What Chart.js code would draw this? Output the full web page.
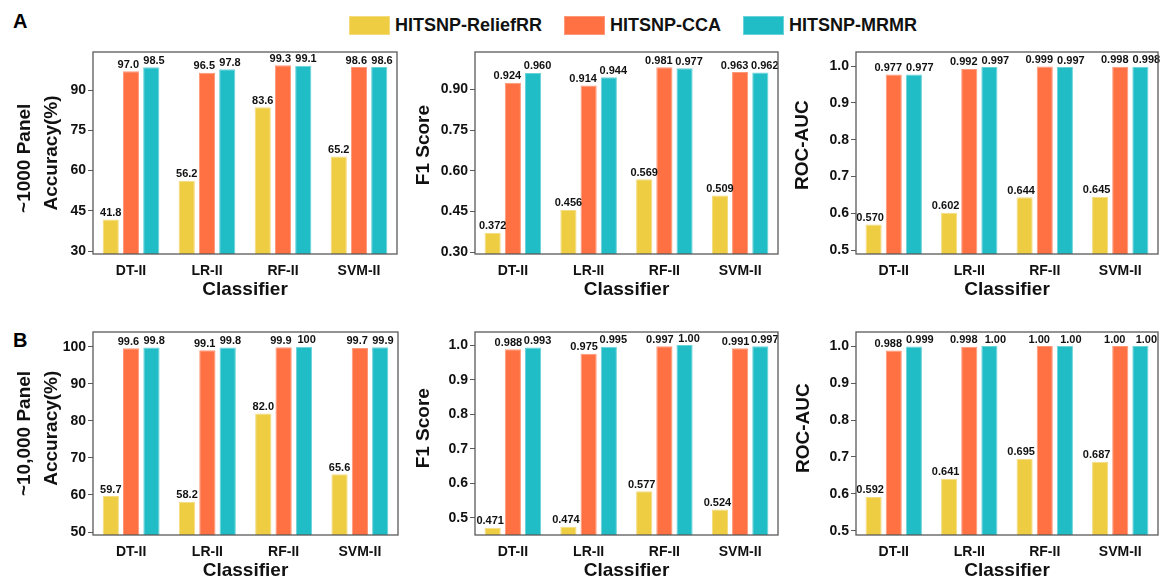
<!DOCTYPE html>
<html>
<head>
<meta charset="utf-8">
<script src="https://cdn.jsdelivr.net/npm/chart.js@4.4.1/dist/chart.umd.min.js"></script>
<style>
  html, body { margin: 0; padding: 0; background: #fff; overflow: hidden; }
  body { width: 1160px; height: 579px; position: relative; font-family: "Liberation Sans", Arial, sans-serif; }
  canvas { position: absolute; }
  .letter { position: absolute; font-weight: bold; font-size: 20px; color: #000; line-height: 20px; }
  #legend { position: absolute; left: 349px; top: 15px; display: flex; gap: 22px; }
  .item { display: flex; align-items: center; gap: 5px; font-weight: bold; font-size: 18px; color: #111; }
  .box { width: 39px; height: 17px; }
</style>
</head>
<body>
<div class="letter" style="left:13px;top:11px">A</div>
<div class="letter" style="left:13px;top:330px">B</div>
<div id="legend"></div>

<canvas id="accA" width="427" height="269" style="left:0px;top:32px"></canvas>
<canvas id="f1A" width="408" height="269" style="left:400px;top:32px"></canvas>
<canvas id="rocA" width="408" height="269" style="left:780px;top:32px"></canvas>
<canvas id="accB" width="428" height="270" style="left:0px;top:312px"></canvas>
<canvas id="f1B" width="408" height="270" style="left:400px;top:312px"></canvas>
<canvas id="rocB" width="408" height="270" style="left:780px;top:312px"></canvas>

<script>
const classifiers = ["DT-II", "LR-II", "RF-II", "SVM-II"];
const methods = ["HITSNP-ReliefRR", "HITSNP-CCA", "HITSNP-MRMR"];
const methodColors = ["#EECD43", "#FF7043", "#20BDC7"];
const methodBorders = ["#F4DC7E", "#FF9878", "#6AD3DA"];

// ~1000 panel
const accA_relief = [41.8, 56.2, 83.6, 65.2];
const accA_cca = [97.0, 96.5, 99.3, 98.6];
const accA_mrmr = [98.5, 97.8, 99.1, 98.6];
const f1A_relief = [0.372, 0.456, 0.569, 0.509];
const f1A_cca = [0.924, 0.914, 0.981, 0.963];
const f1A_mrmr = [0.960, 0.944, 0.977, 0.962];
const rocA_relief = [0.570, 0.602, 0.644, 0.645];
const rocA_cca = [0.977, 0.992, 0.999, 0.998];
const rocA_mrmr = [0.977, 0.997, 0.997, 0.998];

// ~10,000 panel
const accB_relief = [59.7, 58.2, 82.0, 65.6];
const accB_cca = [99.6, 99.1, 99.9, 99.7];
const accB_mrmr = [99.8, 99.8, 100, 99.9];
const f1B_relief = [0.471, 0.474, 0.577, 0.524];
const f1B_cca = [0.988, 0.975, 0.997, 0.991];
const f1B_mrmr = [0.993, 0.995, 1.00, 0.997];
const rocB_relief = [0.592, 0.641, 0.695, 0.687];
const rocB_cca = [0.988, 0.998, 1.00, 1.00];
const rocB_mrmr = [0.999, 1.00, 1.00, 1.00];

// tick labels
const accA_ticks = [30, 45, 60, 75, 90];
const f1A_ticks = [0.30, 0.45, 0.60, 0.75, 0.90];
const rocA_ticks = [0.5, 0.6, 0.7, 0.8, 0.9, 1.0];
const accB_ticks = [50, 60, 70, 80, 90, 100];
const f1B_ticks = [0.5, 0.6, 0.7, 0.8, 0.9, 1.0];
const rocB_ticks = [0.5, 0.6, 0.7, 0.8, 0.9, 1.0];

const FONT = "'Liberation Sans', Arial, sans-serif";
const fmtAcc = v => (v === 100 ? "100" : v.toFixed(1));
const fmtScore = v => (v === 1 ? "1.00" : v.toFixed(3));

// legend
const legendEl = document.getElementById("legend");
methods.forEach((m, i) => {
  const item = document.createElement("div");
  item.className = "item";
  const box = document.createElement("div");
  box.className = "box";
  box.style.background = methodColors[i];
  box.style.border = "1px solid " + methodBorders[i];
  const txt = document.createElement("span");
  txt.textContent = m;
  item.appendChild(box);
  item.appendChild(txt);
  legendEl.appendChild(item);
});

// value labels above each bar, nudged sideways a bit so neighbours don't collide
const barLabels = {
  id: "barLabels",
  afterDatasetsDraw(chart, args, opts) {
    const ctx = chart.ctx;
    ctx.save();
    ctx.font = "bold 11px " + FONT;
    ctx.fillStyle = "#111";
    ctx.textAlign = "center";
    ctx.textBaseline = "alphabetic";
    chart.data.datasets.forEach((ds, di) => {
      chart.getDatasetMeta(di).data.forEach((bar, i) => {
        ctx.fillText(opts.fmt(ds.data[i]), bar.x + opts.shift[di], bar.y - 3.5);
      });
    });
    ctx.restore();
  },
};

const frame = {
  id: "frame",
  afterDraw(chart) {
    const a = chart.chartArea;
    const ctx = chart.ctx;
    ctx.save();
    ctx.strokeStyle = "#5a5a5a";
    ctx.lineWidth = 1.3;
    ctx.strokeRect(a.left, a.top, a.right - a.left, a.bottom - a.top);
    ctx.restore();
  },
};

function makePanel(id, series, ticks, min, max, dec, yTitle, yAxisWidth, titlePad, fmt, shift) {
  const datasets = series.map((vals, i) => ({
    label: methods[i],
    data: vals,
    backgroundColor: methodColors[i],
    borderColor: methodBorders[i],
    borderWidth: 1,
    categoryPercentage: 0.8,
    barPercentage: 0.8,
  }));
  return new Chart(document.getElementById(id).getContext("2d"), {
    type: "bar",
    data: { labels: classifiers, datasets: datasets },
    options: {
      responsive: false,
      animation: false,
      layout: { padding: { top: 20, right: 30, left: 0, bottom: 0 } },
      plugins: {
        legend: { display: false },
        tooltip: { enabled: false },
        barLabels: { fmt: fmt, shift: shift },
      },
      scales: {
        x: {
          grid: { display: false },
          border: { display: false },
          ticks: { color: "#111", font: { family: FONT, size: 14, weight: "bold" }, padding: 1 },
          title: {
            display: true,
            text: "Classifier",
            color: "#111",
            font: { family: FONT, size: 19, weight: "bold", lineHeight: 1.2 },
            padding: { top: 0, bottom: 0 },
          },
          afterFit(scale) { scale.height = 47; },
        },
        y: {
          min: min,
          max: max,
          border: { display: false },
          grid: { drawOnChartArea: false, drawTicks: true, tickLength: 5, color: "#5a5a5a", lineWidth: 1 },
          ticks: {
            color: "#111",
            padding: 2,
            font: { family: FONT, size: 14, weight: "bold" },
            callback: v => v.toFixed(dec),
          },
          afterBuildTicks(scale) { scale.ticks = ticks.map(v => ({ value: v })); },
          title: {
            display: true,
            text: yTitle,
            color: "#111",
            font: { family: FONT, size: 19, weight: "bold", lineHeight: 1.42 },
            padding: { top: titlePad, bottom: 0 },
          },
          afterFit(scale) { scale.width = yAxisWidth; },
        },
      },
    },
    plugins: [barLabels, frame],
  });
}

makePanel("accA", [accA_relief, accA_cca, accA_mrmr], accA_ticks, 28.9, 104.2, 0,
  ["~1000 Panel  ", "Accuracy(%)"], 93, 11.5, fmtAcc, [0, -2.7, 2.7]);
makePanel("f1A", [f1A_relief, f1A_cca, f1A_mrmr], f1A_ticks, 0.294, 1.037, 2,
  "   F1 Score", 75, 10, fmtScore, [0, -5.5, 4.5]);
makePanel("rocA", [rocA_relief, rocA_cca, rocA_mrmr], rocA_ticks, 0.49, 1.038, 1,
  "   ROC-AUC", 76, 9, fmtScore, [-3.5, -5.5, 6]);
makePanel("accB", [accB_relief, accB_cca, accB_mrmr], accB_ticks, 49.2, 104, 0,
  ["~10,000 Panel", "  Accuracy(%)"], 93, 11.5, fmtAcc, [0, -2.7, 2.7]);
makePanel("f1B", [f1B_relief, f1B_cca, f1B_mrmr], f1B_ticks, 0.45, 1.038, 1,
  "  F1 Score", 75, 10.5, fmtScore, [-2.5, -4.5, 4.5]);
makePanel("rocB", [rocB_relief, rocB_cca, rocB_mrmr], rocB_ticks, 0.489, 1.038, 1,
  "  ROC-AUC", 76, 10.5, fmtScore, [-3.5, -5.5, 6]);
</script>
</body>
</html>
